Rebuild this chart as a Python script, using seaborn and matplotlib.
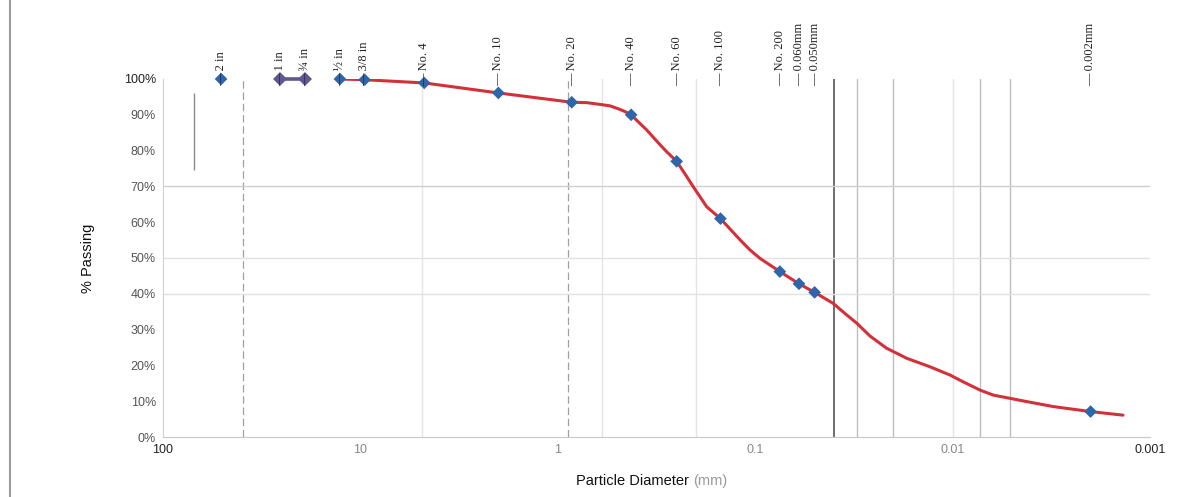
import matplotlib
matplotlib.use("Agg")
import matplotlib.pyplot as plt
import seaborn as sns
import pandas as pd
from matplotlib.lines import Line2D

# ---------------- data ----------------
sieve_labels = ["2 in", "½ in", "3/8 in", "No. 4", "No. 10", "No. 20", "No. 40",
                "No. 60", "No. 100", "No. 200", "0.060mm", "0.050mm", "0.002mm"]
sieve_mm = [50.8, 12.7, 9.525, 4.75, 2.0, 0.85, 0.425, 0.25, 0.15, 0.075, 0.060, 0.050, 0.002]
sieve_pass = [100, 100, 99.8, 98.9, 96.1, 93.5, 90.0, 77.0, 61.0, 46.2, 42.8, 40.4, 7.1]

range_labels = ["1 in", "¾ in"]
range_mm = [25.4, 19.05]
range_pass = [100, 100]

curve_mm = [12.7, 9.525, 4.75, 2.0, 0.85, 0.714, 0.611, 0.544, 0.484, 0.457, 0.425,
            0.384, 0.355, 0.303, 0.281, 0.25, 0.222, 0.206, 0.176, 0.15, 0.119, 0.106,
            0.0946, 0.075, 0.060, 0.050, 0.0402, 0.0351, 0.0306, 0.0262, 0.0216,
            0.0192, 0.0171, 0.0130, 0.0103, 0.00883, 0.00726, 0.00622, 0.00512,
            0.00422, 0.00309, 0.002, 0.00137]
curve_pass = [100, 99.8, 98.9, 96.1, 93.5, 93.4, 92.9, 92.5, 91.5, 90.9, 90.0,
              87.6, 85.8, 81.6, 79.7, 77.0, 72.7, 69.9, 64.3, 61.0, 55.0, 52.2,
              49.9, 46.2, 42.8, 40.4, 37.3, 34.5, 31.8, 28.2, 24.8,
              23.4, 22.0, 19.6, 17.3, 15.4, 13.1, 11.7, 10.8,
              9.9, 8.5, 7.1, 6.1]

x_ticks = [100, 10, 1, 0.1, 0.01, 0.001]
x_tick_labels = ["100", "10", "1", "0.1", "0.01", "0.001"]
y_ticks = [0, 10, 20, 30, 40, 50, 60, 70, 80, 90, 100]
y_tick_labels = [f"{v}%" for v in y_ticks]

# faint reference lines seen in the scanned chart
ref_x_dark = [0.04]
ref_x_mid = [0.0306, 0.020, 0.00726, 0.0051]
ref_x_light = [4.9, 0.6, 0.2, 0.01]
ref_x_dashed = [39.4, 0.89]
ref_y = [70, 50, 40]

# ---------------- styling ----------------
sns.set_theme(style="white")
plt.rcParams["font.family"] = ["Liberation Sans", "DejaVu Sans"]

fig = plt.figure(figsize=(11.86, 4.97), dpi=100)
ax = fig.add_axes([163 / 1186, 60 / 497, 987 / 1186, 358 / 497])
ax.set_xscale("log")
ax.set_xlim(100, 0.001)
ax.set_ylim(0, 100)

# reference lines
for xv in ref_x_dark:
    ax.axvline(xv, color="#6e6e6e", lw=1.4, zorder=1)
for xv in ref_x_mid:
    ax.axvline(xv, color="#bdbdbd", lw=1.0, zorder=1)
for xv in ref_x_light:
    ax.axvline(xv, color="#e4e4e4", lw=1.0, zorder=1)
for xv in ref_x_dashed:
    ax.axvline(xv, color="#a0a0a0", lw=0.9, ls=(0, (6, 3)), zorder=1)
ax.vlines(69.6, 74.6, 96.1, color="#8a8a8a", lw=1.0, zorder=1)
for yv in ref_y:
    ax.axhline(yv, color="#cfcfcf" if yv == 70 else "#e2e2e2", lw=1.0, zorder=1)

# curve
curve_df = pd.DataFrame({"mm": curve_mm, "pass": curve_pass})
sns.lineplot(data=curve_df, x="mm", y="pass", sort=False, estimator=None, ax=ax,
             color="#d4303a", lw=2.2, zorder=3)

# range (1 in - 3/4 in)
range_df = pd.DataFrame({"mm": range_mm, "pass": range_pass})
sns.lineplot(data=range_df, x="mm", y="pass", sort=False, estimator=None, ax=ax,
             color="#5f5890", lw=2.6, marker="D", markersize=7, markeredgewidth=0,
             zorder=4, clip_on=False)

# sieve markers
sieve_df = pd.DataFrame({"mm": sieve_mm, "pass": sieve_pass})
sns.scatterplot(data=sieve_df, x="mm", y="pass", ax=ax, marker="D", s=42,
                color="#2f66ab", edgecolor="none", zorder=5, clip_on=False)

# top labels
for lab, xv in zip(sieve_labels + range_labels, sieve_mm + range_mm):
    ax.text(xv, 98.0, "— " + lab, rotation=90, ha="center", va="bottom",
            fontsize=9, family=["Liberation Serif", "DejaVu Serif"],
            color="#222222", zorder=6, clip_on=False)

# ticks
ax.set_xticks(x_ticks)
ax.set_xticklabels(x_tick_labels)
ax.xaxis.set_minor_locator(matplotlib.ticker.NullLocator())
ax.set_yticks(y_ticks)
ax.set_yticklabels(y_tick_labels)
ax.tick_params(axis="both", length=0, labelsize=9, pad=5)
for i, t in enumerate(ax.get_xticklabels()):
    t.set_color("#222222" if i in (0, len(x_ticks) - 1) else "#888888")
for i, t in enumerate(ax.get_yticklabels()):
    t.set_color("#222222" if i == len(y_ticks) - 1 else "#555555")

ax.set_xlabel("")
ax.set_ylabel("")
for s in ["top", "right"]:
    ax.spines[s].set_visible(False)
ax.spines["left"].set_color("#d0d0d0")
ax.spines["bottom"].set_color("#c8c8c8")
ax.spines["left"].set_linewidth(0.8)
ax.spines["bottom"].set_linewidth(0.8)

# axis titles
fig.text(88 / 1186, 1 - 258 / 497, "% Passing", rotation=90, ha="center", va="center",
         fontsize=10.5, color="#111111")
fig.text(693 / 1186, 1 - 481 / 497, "Particle Diameter ", ha="right", va="center",
         fontsize=10.5, color="#111111")
fig.text(693 / 1186, 1 - 481 / 497, "(mm)", ha="left", va="center",
         fontsize=10.5, color="#9a9a9a")

# page edge line of the scan
fig.add_artist(Line2D([10 / 1186, 10 / 1186], [0, 1], transform=fig.transFigure,
                      color="#9c9c9c", lw=1.5))

fig.savefig("out.png", dpi=100)
